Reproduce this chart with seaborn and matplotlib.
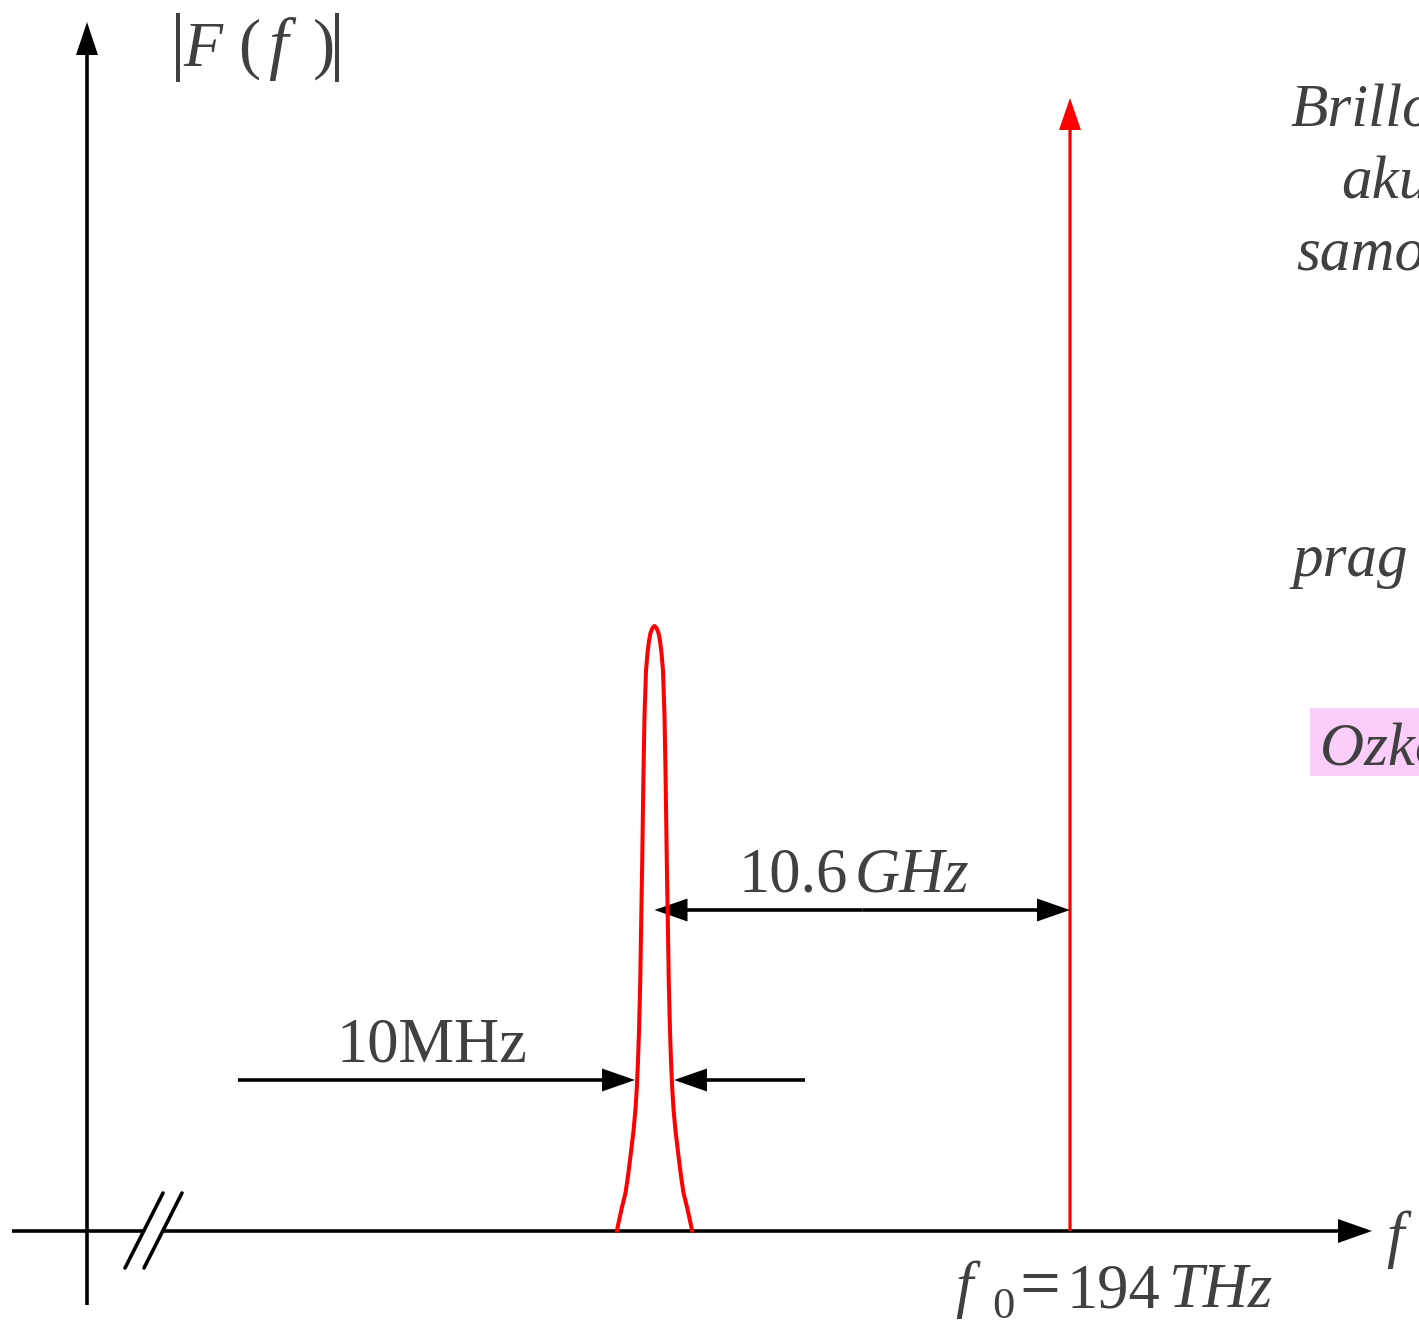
import matplotlib
matplotlib.use("Agg")
import matplotlib.pyplot as plt
from matplotlib import font_manager
from matplotlib.patches import FancyArrow, Rectangle
import seaborn as sns
import pandas as pd

# ---------------- data (in pixel units) ----------------
# Stokes (Brillouin) peak profile: offset from peak centre and height above baseline
peak_offset = [-37.7, -36.0, -32.5, -29.0, -26.5, -24.0, -21.0, -19.0, -17.7, -16.5,
               -15.5, -14.3, -13.3, -12.3, -11.0, -10.0, -8.5, -7.0, -5.5, -4.0,
               -2.0, 0.0, 2.0, 4.0, 5.5, 7.0, 8.5, 10.0, 11.0, 12.3,
               13.3, 14.3, 15.5, 16.5, 17.7, 19.0, 21.0, 24.0, 26.5, 29.0,
               32.5, 36.0, 37.7]
peak_height = [0, 8, 24, 38, 55, 75, 100, 122, 143, 170,
               200, 248, 310, 369, 460, 515, 560, 578, 590, 598,
               603, 605, 603, 598, 590, 578, 560, 515, 460, 369,
               310, 248, 200, 170, 143, 122, 100, 75, 55, 38,
               24, 8, 0]
peak_centre = 654.5          # position of the Stokes line
carrier_pos = 1070           # position of f0 line
carrier_top = 98             # tip of the carrier arrow
baseline = 1231              # frequency axis
labels = {"shift": ["10.6", "GHz"], "width": "10MHz",
          "f0": ["f", "0", "=", "194", "THz"]}
side_lines = ["Brillouinovo", "akustično", "samodejno"]
side_prag = "prag Brillouinovega sipanja"
side_box = "Ozkopasovni filter"

TXT = "#404040"

def pick_font(cands):
    for c in cands:
        try:
            font_manager.findfont(font_manager.FontProperties(family=c),
                                  fallback_to_default=False)
            return c
        except Exception:
            pass
    return "serif"

SERIF = pick_font(["Liberation Serif", "Times New Roman", "Nimbus Roman",
                   "TeX Gyre Termes", "DejaVu Serif"])

sns.set_style("white")
plt.rcParams["font.family"] = [SERIF, "DejaVu Serif"]

fig = plt.figure(figsize=(14.19, 13.27), dpi=100)
ax = fig.add_axes([0, 0, 1, 1])
ax.set_xlim(0, 1419)
ax.set_ylim(1327, 0)
ax.axis("off")

def arrow(x0, y0, x1, y1, color="black", w=3.6, hw=23, hl=33):
    ax.add_patch(FancyArrow(x0, y0, x1 - x0, y1 - y0, width=w, head_width=hw,
                            head_length=hl, length_includes_head=True,
                            color=color, lw=0))

# ---------------- axes ----------------
ax.plot([12, 143], [baseline, baseline], color="black", lw=2.6, solid_capstyle="butt")
arrow(163, baseline, 1372, baseline, hw=24, hl=34)
arrow(87, 1305, 87, 22, hw=22, hl=33)
ax.plot([125, 163], [1268, 1193], color="black", lw=2.6)
ax.plot([144, 182], [1268, 1193], color="black", lw=2.6)

# ---------------- spectral lines ----------------
df = pd.DataFrame({"x": [peak_centre + o for o in peak_offset],
                   "y": [baseline - h for h in peak_height]})
sns.lineplot(data=df, x="x", y="y", sort=False, color="red", lw=2.9, ax=ax,
             estimator=None)
ax.lines[-1].set_solid_joinstyle("round")
ax.lines[-1].set_solid_capstyle("round")
arrow(carrier_pos, baseline, carrier_pos, carrier_top, color="red", w=3.2, hw=22, hl=32)
ax.set_xlim(0, 1419)
ax.set_ylim(1327, 0)
ax.set_xlabel("")
ax.set_ylabel("")

# ---------------- dimension arrows ----------------
mid = (peak_centre + carrier_pos) / 2
arrow(mid, 910, peak_centre, 910, hw=23, hl=33)
arrow(mid, 910, carrier_pos, 910, hw=23, hl=33)
arrow(238, 1080, 635, 1080, hw=23, hl=33)
arrow(805, 1080, 674, 1080, hw=23, hl=33)

# ---------------- texts ----------------
def t(x, y, s, size=44, italic=False, **kw):
    ax.text(x, y, s, fontsize=size, color=TXT, family=[SERIF, "DejaVu Serif"],
            style="italic" if italic else "normal", ha="left", va="baseline", **kw)

# |F(f)|
ax.plot([178, 178], [13, 82], color=TXT, lw=2.9, solid_capstyle="butt")
ax.plot([337, 337], [13, 82], color=TXT, lw=2.9, solid_capstyle="butt")
t(183, 66, "F", size=46, italic=True)
t(238, 66, "(", size=48)
t(268, 66, "f", size=50, italic=True)
t(313, 66, ")", size=48)

t(738, 892, labels["shift"][0], size=45)
t(855, 892, labels["shift"][1], size=45, italic=True)
t(336, 1062, labels["width"], size=45)

t(955, 1305, labels["f0"][0], size=45, italic=True)
t(992, 1318, labels["f0"][1], size=32)
t(1019, 1307, labels["f0"][2], size=52)
t(1066, 1307, labels["f0"][3], size=45)
t(1169, 1307, labels["f0"][4], size=45, italic=True)
t(1386, 1255, "f", size=45, italic=True)

# side notes (clipped at the figure edge, as in the reference)
t(1290, 126, side_lines[0], italic=True)
t(1341, 197, side_lines[1], italic=True)
t(1296, 270, side_lines[2], italic=True)
t(1293, 576, side_prag, italic=True)
ax.add_patch(Rectangle((1310, 708), 200, 68, color="#fbcdfb", lw=0, zorder=0))
t(1320, 765, side_box, italic=True)

fig.savefig("out.png", dpi=100)
